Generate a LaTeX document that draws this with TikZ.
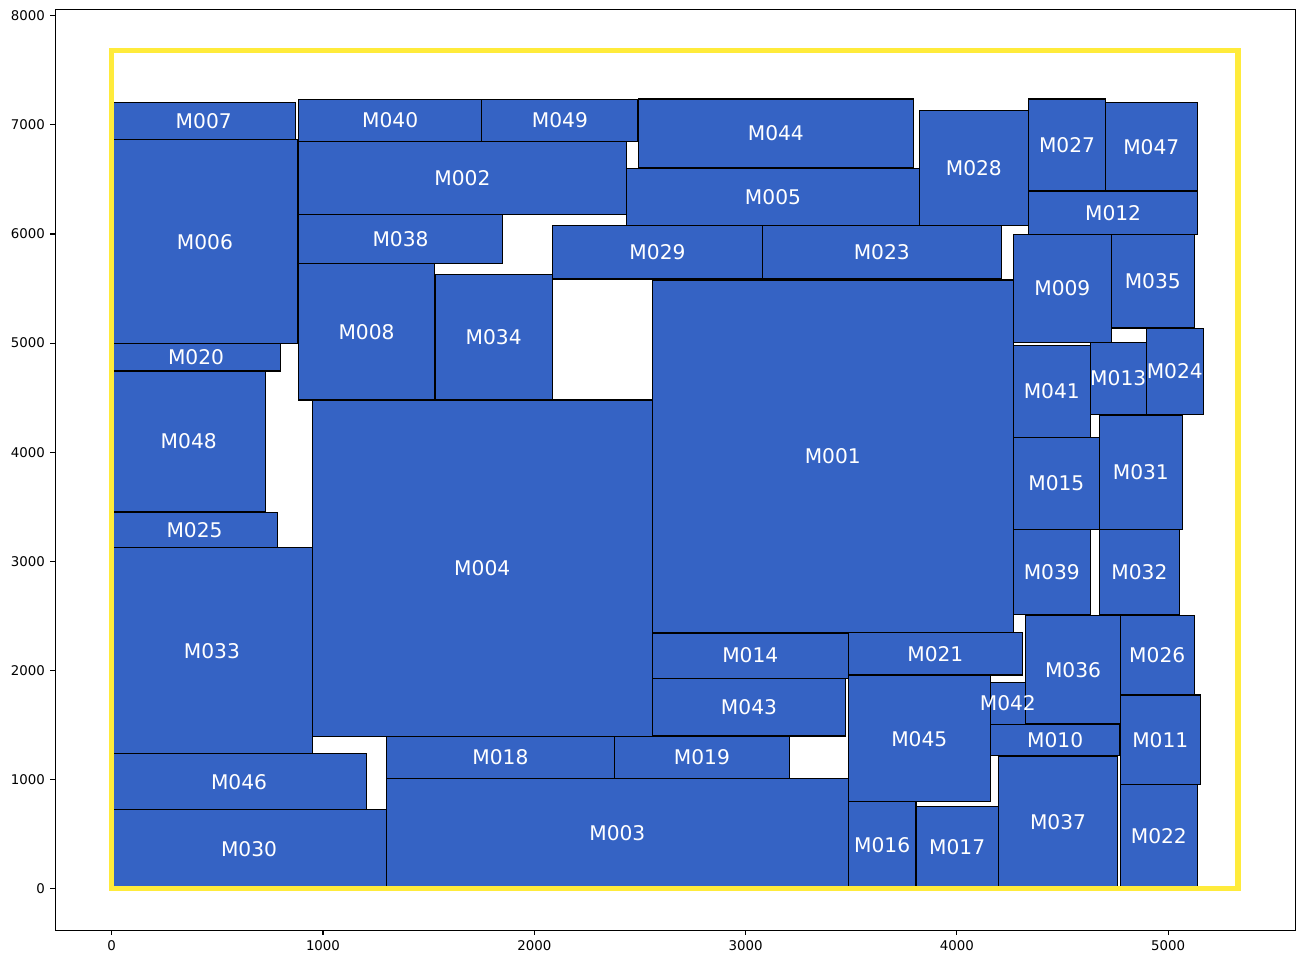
\documentclass[tikz,border=0pt]{standalone}
\usepackage{fontspec}
\setmainfont{DejaVu Sans}
\definecolor{blockblue}{HTML}{3563C4}
\definecolor{chipyellow}{HTML}{FFEB3B}

\tikzset{
  block/.style={draw=black, fill=blockblue, line width=0.7pt},
  tag/.style={midway, text=white, inner sep=0pt, font=\fontsize{11.5}{12}\selectfont},
  outline/.style={draw=chipyellow, line width=3pt},
  tick/.style={line width=0.6pt},
  ticklbl/.style={inner sep=0pt, font=\fontsize{7.6}{8}\selectfont},
}

\begin{document}
\begin{tikzpicture}[x=0.004226cm, y=0.0021884cm]
  \useasboundingbox (-528.6,-691.8) rectangle (5642.7,8145.6);
  % axes frame and ticks
  \draw[tick] (-267,-384) rectangle (5601,8062);
  \foreach \t in {0,1000,...,5000}
    \draw[tick] (\t,-384) -- ++(0,-44) node[below, ticklbl, yshift=-2.8pt] {\t};
  \foreach \t in {0,1000,...,8000}
    \draw[tick] (-267,\t) -- ++(-23,0) node[left, ticklbl, xshift=-2.8pt] {\t};
  % left column
  \draw[block] (0,6863) rectangle (871,7207) node[tag] (m007) {M007};
  \draw[block] (0,4996) rectangle (882,6863) node[tag] (m006) {M006};
  \draw[block] (0,4743) rectangle (798,4996) node[tag] (m020) {M020};
  \draw[block] (0,3451) rectangle (729,4743) node[tag] (m048) {M048};
  \draw[block] (0,3126) rectangle (784,3445) node[tag] (m025) {M025};
  \draw[block] (0,1234) rectangle (949,3126) node[tag] (m033) {M033};
  \draw[block] (0,722) rectangle (1205,1234) node[tag] (m046) {M046};
  \draw[block] (0,0) rectangle (1300,722) node[tag] (m030) {M030};
  % top rows
  \draw[block] (885,6848) rectangle (1751,7235) node[tag] (m040) {M040};
  \draw[block] (1751,6848) rectangle (2491,7235) node[tag] (m049) {M049};
  \draw[block] (885,6178) rectangle (2435,6848) node[tag] (m002) {M002};
  \draw[block] (885,5730) rectangle (1849,6178) node[tag] (m038) {M038};
  \draw[block] (885,4478) rectangle (1527,5730) node[tag] (m008) {M008};
  \draw[block] (1530,4481) rectangle (2085,5626) node[tag] (m034) {M034};
  \draw[block] (2492,6613) rectangle (3794,7238) node[tag] (m044) {M044};
  \draw[block] (2437,6077) rectangle (3822,6604) node[tag] (m005) {M005};
  \draw[block] (2087,5587) rectangle (3079,6077) node[tag] (m029) {M029};
  \draw[block] (3079,5587) rectangle (4210,6077) node[tag] (m023) {M023};
  \draw[block] (3822,6077) rectangle (4338,7134) node[tag] (m028) {M028};
  \draw[block] (4340,6394) rectangle (4702,7238) node[tag] (m027) {M027};
  \draw[block] (4702,6394) rectangle (5138,7207) node[tag] (m047) {M047};
  \draw[block] (4340,5995) rectangle (5138,6394) node[tag] (m012) {M012};
  % the two big ones
  \draw[block] (2558,2349) rectangle (4267,5578) node[tag] (m001) {M001};
  \draw[block] (949,1395) rectangle (2558,4478) node[tag] (m004) {M004};
  % right column
  \draw[block] (4267,5008) rectangle (4731,5995) node[tag] (m009) {M009};
  \draw[block] (4731,5139) rectangle (5123,5995) node[tag] (m035) {M035};
  \draw[block] (4267,4134) rectangle (4631,4977) node[tag] (m041) {M041};
  \draw[block] (4631,4344) rectangle (4896,5005) node[tag] (m013) {M013};
  \draw[block] (4896,4344) rectangle (5166,5133) node[tag] (m024) {M024};
  \draw[block] (4267,3290) rectangle (4674,4134) node[tag] (m015) {M015};
  \draw[block] (4674,3290) rectangle (5067,4337) node[tag] (m031) {M031};
  \draw[block] (4267,2510) rectangle (4631,3290) node[tag] (m039) {M039};
  \draw[block] (4674,2510) rectangle (5053,3290) node[tag] (m032) {M032};
  \draw[block] (4326,1511) rectangle (4773,2500) node[tag] (m036) {M036};
  \draw[block] (4773,1773) rectangle (5123,2500) node[tag] (m026) {M026};
  \draw[block] (4773,953) rectangle (5152,1773) node[tag] (m011) {M011};
  \draw[block] (4773,0) rectangle (5138,953) node[tag] (m022) {M022};
  % bottom rows
  \draw[block] (2558,1928) rectangle (3486,2342) node[tag] (m014) {M014};
  \draw[block] (2558,1398) rectangle (3474,1928) node[tag] (m043) {M043};
  \draw[block] (3486,1956) rectangle (4310,2349) node[tag] (m021) {M021};
  \draw[block] (1300,1005) rectangle (2379,1395) node[tag] (m018) {M018};
  \draw[block] (2379,1005) rectangle (3207,1395) node[tag] (m019) {M019};
  \draw[block] (1300,0) rectangle (3486,1005) node[tag] (m003) {M003};
  \draw[block] (3486,795) rectangle (4158,1949) node[tag] (m045) {M045};
  \draw[block] (4158,1218) rectangle (4772,1505) node[tag] (m010) {M010};
  \draw[block] (3486,0) rectangle (3806,795) node[tag] (m016) {M016};
  \draw[block] (3806,0) rectangle (4196,749) node[tag] (m017) {M017};
  \draw[block] (4196,0) rectangle (4761,1212) node[tag] (m037) {M037};
  \draw[block] (4158,1505) rectangle (4324,1888) node[tag] (m042) {M042};
  % chip outline on top
  \draw[outline] (0,0) rectangle (5330,7682);
\end{tikzpicture}
\end{document}
